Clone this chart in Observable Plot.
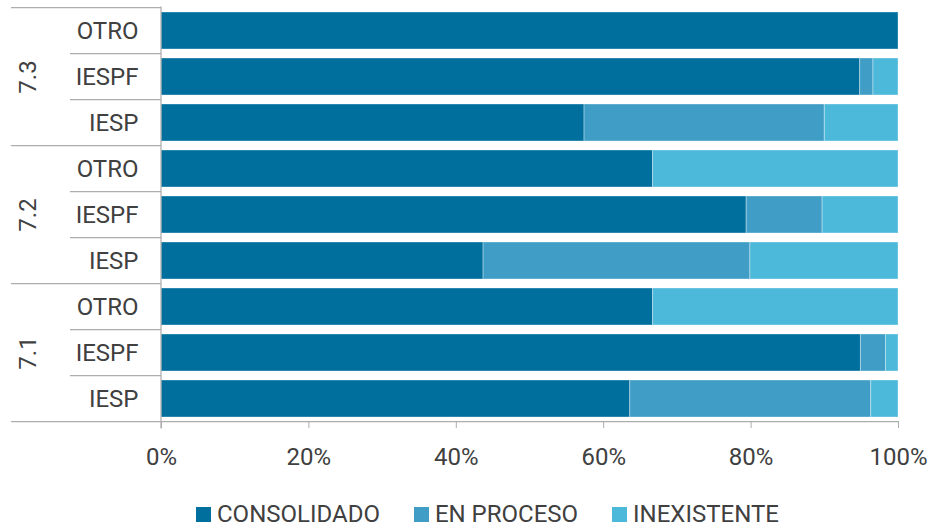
<!DOCTYPE html>
<html><head><meta charset="utf-8">
<script src="https://cdn.jsdelivr.net/npm/d3@7"></script>
<script src="https://cdn.jsdelivr.net/npm/@observablehq/plot@0.6"></script>
<style>
body{margin:0;background:#fff;font-family:Roboto,sans-serif;}
#legend{display:flex;align-items:center;height:46px;padding-top:6px;padding-left:196px;font-size:24px;color:#404040;}
.item{display:flex;align-items:center;margin-right:34px;}
.sw{width:15px;height:15px;margin-right:6px;}
</style></head><body><div id="chart"></div><div id="legend"></div>
<script>
const groups = ["7.3", "7.2", "7.1"];
const types = ["OTRO", "IESPF", "IESP"];
const statuses = ["CONSOLIDADO", "EN PROCESO", "INEXISTENTE"];
const colors = ["#006F9E", "#3F9DC6", "#4DB9DA"];
// order: 7.3 OTRO, 7.3 IESPF, 7.3 IESP, 7.2 OTRO, ..., 7.1 IESP
const consolidado = [100, 94.8, 57.4, 66.7, 79.4, 43.7, 66.7, 94.9, 63.6];
const enProceso   = [0,   1.8, 32.6, 0,   10.3, 36.2, 0,   3.4, 32.7];
const inexistente = [0,   3.4, 10.0, 33.3, 10.3, 20.1, 33.3, 1.7, 3.7];
const xTicks = [0, 20, 40, 60, 80, 100];

const keys = groups.flatMap(g => types.map(t => g + "|" + t));
const series = [consolidado, enProceso, inexistente];
const data = [];
keys.forEach((k, i) => statuses.forEach((s, j) => {
  if (series[j][i] > 0) data.push({key: k, status: s, value: series[j][i]});
}));

const plot = Plot.plot({
  width: 949, height: 485,
  marginTop: 7, marginBottom: 64, marginLeft: 161, marginRight: 51,
  style: {fontFamily: "Roboto", fontSize: "24px", color: "#404040", background: "white"},
  x: {domain: [0, 100], label: null},
  y: {domain: keys, paddingInner: 0.2, paddingOuter: 0.1, label: null},
  color: {domain: statuses, range: colors},
  marks: [
    Plot.barX(data, Plot.stackX({x: "value", y: "key", fill: "status", order: statuses,
      stroke: "white", strokeOpacity: 0.35, strokeWidth: 1})),
    Plot.axisX({ticks: xTicks, tickFormat: d => d + "%", tickSize: 7, tickPadding: 19,
      stroke: "#ADADAD", fontSize: 24, label: null}),
    Plot.axisY({tickSize: 0, tickPadding: 23, tickFormat: k => k.split("|")[1],
      fontSize: 24, textAnchor: "end", label: null}),
    Plot.text(groups, {y: g => g + "|IESPF", text: d => d, frameAnchor: "left", dx: -133,
      rotate: -90, textAnchor: "middle", lineAnchor: "middle", fontSize: 24, fill: "#404040"})
  ]
});
document.getElementById("chart").appendChild(plot);

// separators using the plot's own scales
const ys = plot.scale("y"), xs = plot.scale("x");
const bw = ys.bandwidth;
const step = ys.step || (ys.apply(keys[1]) - ys.apply(keys[0]));
const gap = step - bw;
const x0 = xs.apply(0), x100 = xs.apply(100);
const svg = d3.select(plot);
const g = svg.append("g").attr("stroke", "#ADADAD").attr("stroke-width", 1.25).attr("fill", "none");
keys.forEach((k, i) => {
  const yb = ys.apply(k) - gap / 2;
  const top = i % types.length === 0;
  g.append("line").attr("x1", top ? 11 : 70).attr("x2", x0).attr("y1", yb).attr("y2", yb);
});
const yEnd = ys.apply(keys[keys.length - 1]) + bw + gap / 2;
g.append("line").attr("x1", 11).attr("x2", x100).attr("y1", yEnd).attr("y2", yEnd);
g.append("line").attr("x1", x0).attr("x2", x0).attr("y1", ys.apply(keys[0]) - gap / 2 - 1).attr("y2", yEnd + 7);

// legend
const legend = d3.select("#legend");
statuses.forEach((s, i) => {
  const it = legend.append("div").attr("class", "item");
  it.append("div").attr("class", "sw").style("background", colors[i]);
  it.append("span").text(s);
});
</script></body></html>
